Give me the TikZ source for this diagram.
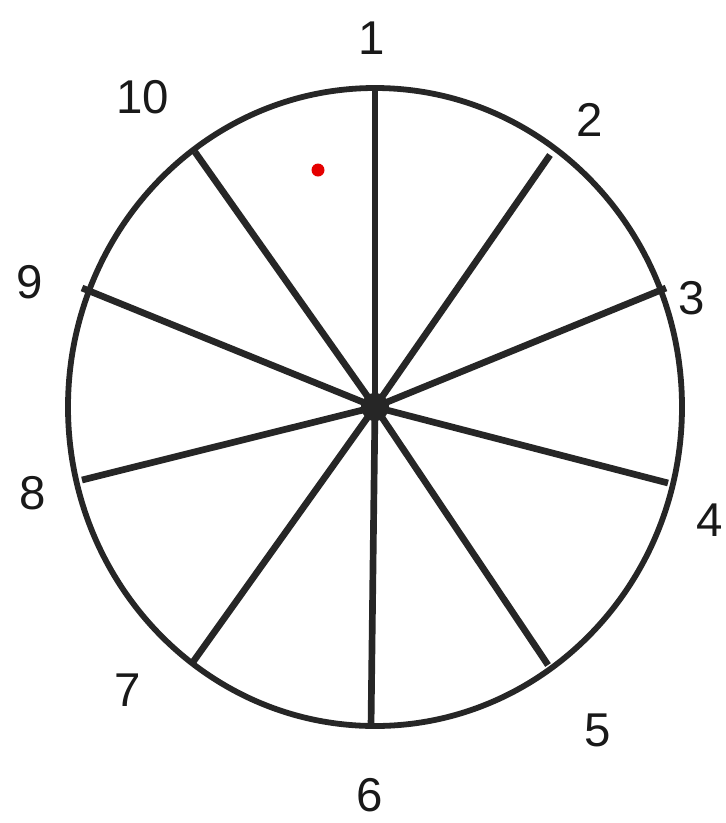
\documentclass[tikz,border=0pt]{standalone}
\usepackage{fontspec}
\setmainfont{Liberation Sans}
\begin{document}
\begin{tikzpicture}[x=0.02cm,y=-0.02cm,
  rim/.style={line width=3.3pt,draw=black!85},
  spoke/.style={line width=3.8pt,draw=black!85},
  lab/.style={font=\fontsize{27}{30}\selectfont,text=black!90,inner sep=0pt}]
\useasboundingbox (0,0) rectangle (725,823);
\fill[white] (0,0) rectangle (725,823);
\coordinate (c) at (375,407);
\draw[rim] (c) ellipse [x radius=307, y radius=319];
\coordinate (e1) at (375,90);
\coordinate (e2) at (550,155);
\coordinate (e3) at (666,288);
\coordinate (e4) at (668,483);
\coordinate (e5) at (548,665);
\coordinate (e6) at (371,727);
\coordinate (e7) at (193,662);
\coordinate (e8) at (82,480);
\coordinate (e9) at (82,288);
\coordinate (e10) at (195,152);
\foreach \i in {1,...,10} \draw[spoke] (c) -- (e\i);
\fill[black!85] (c) circle (14);
\fill[red!90!black] (318,170) circle (6.5);
\node[lab] (l1) at (372,38) {1};
\node[lab] (l2) at (590,120) {2};
\node[lab] (l3) at (692,298) {3};
\node[lab] (l4) at (710,520) {4};
\node[lab] (l5) at (598,730) {5};
\node[lab] (l6) at (370,795) {6};
\node[lab] (l7) at (128,690) {7};
\node[lab] (l8) at (33,493) {8};
\node[lab] (l9) at (30,282) {9};
\node[lab] (l10) at (143,97) {10};
\end{tikzpicture}
\end{document}
